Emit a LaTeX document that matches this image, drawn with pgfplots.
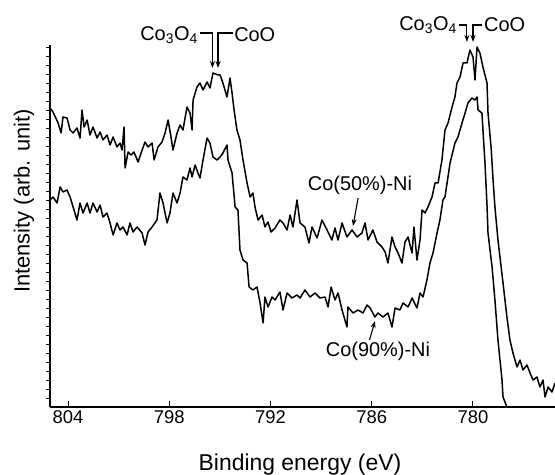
\documentclass[border=0pt]{standalone}
\usepackage{pgfplots}
\pgfplotsset{compat=1.18}
\usepackage{fontspec}
\setmainfont{Liberation Sans}
\usetikzlibrary{arrows.meta}

\begin{document}
\begin{tikzpicture}
\begin{axis}[
  scale only axis, width=505bp, height=362bp,
  xmin=775.14, xmax=805.07, ymin=0, ymax=362,
  x dir=reverse,
  clip=false,
  axis x line*=bottom, axis y line*=left,
  axis line style={-, line width=1.4bp},
  tick pos=left,
  tick align=inside,
  major tick length=6bp,
  tick style={line width=1bp, black},
  xtick={804,798,792,786,780},
  xticklabels={804,798,792,786,780},
  xticklabel style={font=\fontsize{18.5}{20}\selectfont},
  ytick=\empty,
  extra y ticks={9,18,...,360},
  extra y tick labels={},
  extra y tick style={tick align=outside, major tick length=3.5bp, tick style={line width=0.9bp}},
  every axis x label/.style={at={(axis description cs:0.495,-0.160)}, anchor=center},
  every axis y label/.style={at={(axis description cs:-0.0515,0.569)}, anchor=center, rotate=90},
  xlabel={Binding energy (eV)},
  ylabel={Intensity (arb. unit)},
  xlabel style={font=\fontsize{23}{24}\selectfont},
  ylabel style={font=\fontsize{22}{24}\selectfont},
]
\coordinate (O) at (rel axis cs:0,0);

% Co(50%)-Ni (upper curve)
\addplot[black, line width=1.5bp, line join=round] coordinates {
(805.07,299) (804.89,295) (804.59,284) (804.41,274) (804.30,290) (804.06,289)
(803.88,277) (803.70,274) (803.47,279) (803.29,269) (803.17,297) (803.05,280)
(802.87,287) (802.70,272) (802.52,280) (802.28,269) (802.10,275) (801.93,267)
(801.69,272) (801.51,262) (801.33,270) (801.10,260) (800.92,264) (800.80,257)
(800.68,280) (800.62,239) (800.44,255) (800.27,252) (800.09,255) (799.85,245)
(799.67,254) (799.44,265) (799.26,260) (799.02,264) (798.90,247) (798.67,260)
(798.43,265) (798.25,274) (798.07,287) (797.90,270) (797.78,257) (797.54,274)
(797.36,282) (797.19,277) (796.95,300) (796.77,294) (796.65,277) (796.59,307)
(796.36,320) (796.18,324) (796.00,317) (795.76,325) (795.59,319) (795.41,334)
(795.11,332) (794.99,332) (794.82,324) (794.58,310) (794.40,329) (794.28,314)
(794.16,297) (793.99,277) (793.81,267) (793.63,247) (793.39,224) (793.21,210)
(793.04,214) (792.92,200) (792.74,187) (792.50,192) (792.33,180) (792.15,185)
(791.97,175) (791.73,179) (791.44,187) (791.26,184) (791.02,177) (790.84,192)
(790.67,180) (790.43,207) (790.25,184) (789.96,180) (789.72,164) (789.54,180)
(789.24,169) (788.95,187) (788.65,177) (788.36,167) (788.18,179) (788.00,167)
(787.76,184) (787.47,170) (787.17,177) (786.87,170) (786.58,174) (786.40,184)
(786.22,167) (785.93,177) (785.69,165) (785.39,160) (785.21,155) (785.04,144)
(784.80,170) (784.62,160) (784.44,154) (784.21,144) (784.03,165) (783.85,170)
(783.61,154) (783.50,180) (783.32,147) (783.14,167) (783.02,197) (782.84,194)
(782.67,200) (782.43,210) (782.25,224) (782.07,224) (781.84,247) (781.66,277)
(781.48,284) (781.24,300) (781.07,310) (780.95,324) (780.77,330) (780.59,344)
(780.36,344) (780.18,357) (780.00,350) (779.88,327) (779.76,360) (779.59,354)
(779.41,340) (779.17,324) (779.11,294) (778.93,260) (778.81,227) (778.70,200)
(778.52,167) (778.22,124) (777.99,90) (777.81,67) (777.63,54) (777.39,40)
(777.21,47) (777.04,37) (776.80,42) (776.62,34) (776.44,27) (776.21,30)
(776.03,20) (775.85,27) (775.73,10) (775.55,20) (775.32,15) (775.14,24)
};

% Co(90%)-Ni (lower curve)
\addplot[black, line width=1.5bp, line join=round] coordinates {
(805.07,207) (804.89,210) (804.65,204) (804.47,220) (804.30,215) (804.06,217)
(803.88,210) (803.70,200) (803.47,187) (803.29,204) (803.11,194) (802.87,204)
(802.70,194) (802.52,204) (802.28,195) (802.10,202) (801.93,190) (801.69,194)
(801.51,184) (801.33,172) (801.10,184) (800.92,177) (800.74,180) (800.50,172)
(800.33,184) (800.15,175) (799.91,180) (799.61,174) (799.44,162) (799.26,175)
(799.02,180) (798.73,187) (798.55,214) (798.37,204) (798.13,184) (797.96,194)
(797.78,214) (797.54,204) (797.36,214) (797.19,230) (796.95,227) (796.77,239)
(796.65,230) (796.47,242) (796.30,234) (796.18,229) (796.00,247) (795.76,269)
(795.59,264) (795.41,250) (795.17,247) (794.99,250) (794.82,254) (794.58,262)
(794.52,247) (794.28,234) (794.10,200) (793.93,197) (793.81,157) (793.63,147)
(793.39,144) (793.27,120) (793.04,117) (792.80,120) (792.62,104) (792.44,84)
(792.33,110) (792.15,100) (791.91,110) (791.73,107) (791.44,115) (791.26,97)
(791.02,114) (790.73,109) (790.43,112) (790.25,109) (789.96,117) (789.66,110)
(789.36,114) (789.07,109) (788.77,110) (788.59,100) (788.41,120) (788.18,107)
(788.00,114) (787.76,97) (787.47,80) (787.41,100) (787.11,94) (786.81,97)
(786.52,94) (786.28,102) (786.10,99) (785.81,90) (785.63,94) (785.33,90)
(785.04,94) (784.80,80) (784.62,99) (784.33,97) (784.15,104) (783.85,100)
(783.61,109) (783.32,99) (783.14,114) (782.96,110) (782.73,127) (782.55,144)
(782.37,154) (782.13,174) (781.96,187) (781.78,207) (781.66,210) (781.36,244)
(781.07,264) (780.89,270) (780.65,284) (780.47,294) (780.30,304) (780.06,309)
(779.88,307) (779.76,310) (779.70,297) (779.47,294) (779.41,277) (779.29,244)
(779.17,202) (779.11,174) (778.87,140) (778.70,107) (778.52,67) (778.28,27)
(778.22,10) (777.99,0)
};

% annotations
\node[anchor=east, inner sep=0pt, font=\fontsize{20}{22}\selectfont] at (axis cs:796.30,372) {Co\textsubscript{3}O\textsubscript{4}};
\node[anchor=west, inner sep=0pt, font=\fontsize{20}{22}\selectfont] at (axis cs:794.16,372) {CoO};
\draw[line width=1.1bp, -{Stealth[length=7bp,width=5bp]}] (axis cs:796.18,374) -- (axis cs:795.44,374) -- (axis cs:795.44,339);
\draw[line width=1.1bp, -{Stealth[length=7bp,width=5bp]}] (axis cs:794.22,374) -- (axis cs:795.11,374) -- (axis cs:795.11,339);

\node[anchor=east, inner sep=0pt, font=\fontsize{20}{22}\selectfont] at (axis cs:780.95,382) {Co\textsubscript{3}O\textsubscript{4}};
\node[anchor=west, inner sep=0pt, font=\fontsize{20}{22}\selectfont] at (axis cs:779.35,382) {CoO};
\draw[line width=1.1bp, -{Stealth[length=7bp,width=5bp]}] (axis cs:780.83,382) -- (axis cs:780.36,382) -- (axis cs:780.36,365);
\draw[line width=1.1bp, -{Stealth[length=7bp,width=5bp]}] (axis cs:779.45,382) -- (axis cs:780.00,382) -- (axis cs:780.00,365);

\node[font=\fontsize{20}{22}\selectfont] at (axis cs:786.70,222) {Co(50\%)-Ni};
\draw[line width=1.1bp, -{Stealth[length=7bp,width=5bp]}] (axis cs:786.81,209) -- (axis cs:787.11,181);

\node[font=\fontsize{20}{22}\selectfont] at (axis cs:785.63,56) {Co(90\%)-Ni};
\draw[line width=1.1bp, -{Stealth[length=7bp,width=5bp]}] (axis cs:786.13,67) -- (axis cs:785.81,86);
\end{axis}
\pgfresetboundingbox
\path[use as bounding box] ([xshift=-50bp,yshift=-68bp]O) rectangle ++(555bp,475bp);
\end{tikzpicture}
\end{document}
